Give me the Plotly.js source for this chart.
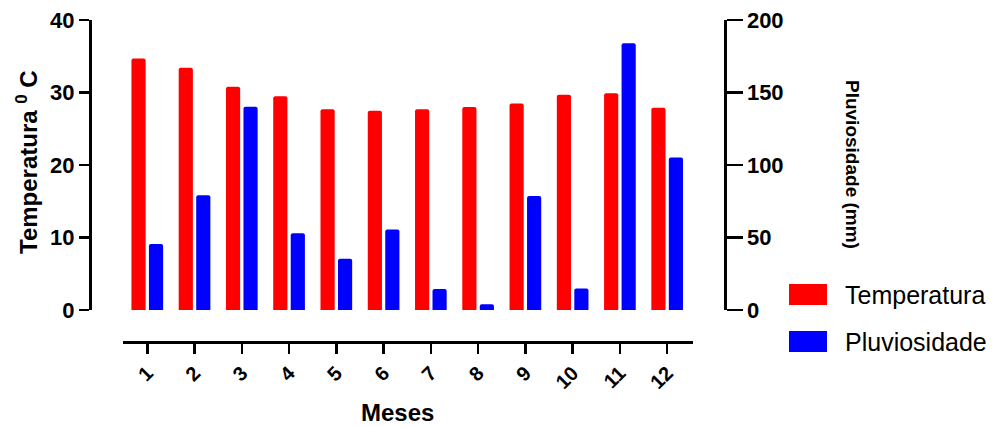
<!DOCTYPE html>
<html>
<head>
<meta charset="utf-8">
<script src="https://cdn.plot.ly/plotly-3.0.1.min.js"></script>
<style>html,body{margin:0;padding:0;background:#fff;}#chart{width:995px;height:427px;}</style>
</head>
<body>
<div id="chart"></div>
<script>
const months = [1, 2, 3, 4, 5, 6, 7, 8, 9, 10, 11, 12];
const monthLabels = ["1", "2", "3", "4", "5", "6", "7", "8", "9", "10", "11", "12"];
const temperatura = [34.7, 33.4, 30.8, 29.5, 27.7, 27.5, 27.7, 28.0, 28.5, 29.7, 29.9, 27.9];
const pluviosidade = [45.5, 79.1, 140.2, 52.9, 35.4, 55.6, 14.5, 3.9, 78.6, 14.9, 183.9, 105.1];
const seriesNames = ["Temperatura", "Pluviosidade"];
const seriesColors = ["#ff0000", "#0000ff"];
const tempTicks = [0, 10, 20, 30, 40];
const pluvTicks = [0, 50, 100, 150, 200];

const W = 995, H = 427;
const L = 90, R = 725, T = 20, B = 342;
const px = x => (x - L) / (R - L);
const py = y => (B - y) / (B - T);

const font = "Liberation Sans, Arial, sans-serif";

const traces = [
  {
    type: "bar", name: seriesNames[0], x: months, y: temperatura,
    xaxis: "x", yaxis: "y", width: 0.3, offset: -0.335,
    marker: {color: seriesColors[0], cornerradius: 2, line: {width: 0}},
    showlegend: false, hoverinfo: "x+y"
  },
  {
    type: "bar", name: seriesNames[1], x: months, y: pluviosidade,
    xaxis: "x", yaxis: "y2", width: 0.3, offset: 0.035,
    marker: {color: seriesColors[1], cornerradius: 2, line: {width: 0}},
    showlegend: false, hoverinfo: "x+y"
  }
];

const axisFont = {family: font, size: 22, color: "#000", weight: "bold"};

const layout = {
  width: W, height: H,
  margin: {l: L, r: W - R, t: T, b: H - B, pad: 0},
  paper_bgcolor: "#fff", plot_bgcolor: "#fff",
  showlegend: false,
  xaxis: {
    domain: [px(122.7), px(692.7)],
    range: [0.48, 12.54],
    anchor: "free", position: 0,
    tickvals: months, ticktext: monthLabels,
    tickangle: -45,
    ticks: "outside", ticklen: 10, tickwidth: 2.5, tickcolor: "#000",
    showline: true, linewidth: 2.5, linecolor: "#000",
    showgrid: false, zeroline: false,
    tickfont: {family: font, size: 20, color: "#000", weight: "bold"}
  },
  yaxis: {
    domain: [py(310), 1],
    range: [0, 40],
    anchor: "free", position: 0,
    tickvals: tempTicks,
    ticks: "outside", ticklen: 10, tickwidth: 2.5, tickcolor: "#000",
    showline: true, linewidth: 2.5, linecolor: "#000",
    showgrid: false, zeroline: false,
    tickfont: axisFont
  },
  yaxis2: {
    overlaying: "y", side: "right",
    range: [0, 200],
    anchor: "free", position: 1,
    tickvals: pluvTicks,
    ticks: "outside", ticklen: 16, tickwidth: 2.5, tickcolor: "#000",
    showline: true, linewidth: 2.5, linecolor: "#000",
    showgrid: false, zeroline: false,
    tickfont: axisFont
  },
  shapes: [
    {type: "rect", xref: "paper", yref: "paper", x0: px(789), x1: px(827), y0: py(305), y1: py(284),
     fillcolor: seriesColors[0], line: {width: 0}},
    {type: "rect", xref: "paper", yref: "paper", x0: px(789), x1: px(827), y0: py(352), y1: py(331),
     fillcolor: seriesColors[1], line: {width: 0}}
  ],
  annotations: [
    {xref: "paper", yref: "paper", x: px(27), y: py(162), text: "Temperatura <sup>0</sup> C",
     textangle: -90, showarrow: false, xanchor: "center", yanchor: "middle",
     font: {family: font, size: 24, color: "#000", weight: "bold"}},
    {xref: "paper", yref: "paper", x: px(853), y: py(164), text: "Pluviosidade (mm)",
     textangle: 90, showarrow: false, xanchor: "center", yanchor: "middle",
     font: {family: font, size: 19, color: "#000", weight: "bold"}},
    {xref: "paper", yref: "paper", x: px(397), y: py(412), text: "Meses",
     showarrow: false, xanchor: "center", yanchor: "middle",
     font: {family: font, size: 24, color: "#000", weight: "bold"}},
    {xref: "paper", yref: "paper", x: px(843), y: py(294.5), text: seriesNames[0],
     showarrow: false, xanchor: "left", yanchor: "middle",
     font: {family: font, size: 25, color: "#000"}},
    {xref: "paper", yref: "paper", x: px(843), y: py(341.5), text: seriesNames[1],
     showarrow: false, xanchor: "left", yanchor: "middle",
     font: {family: font, size: 25, color: "#000"}}
  ]
};

Plotly.newPlot("chart", traces, layout, {staticPlot: true, displayModeBar: false});
</script>
</body>
</html>
